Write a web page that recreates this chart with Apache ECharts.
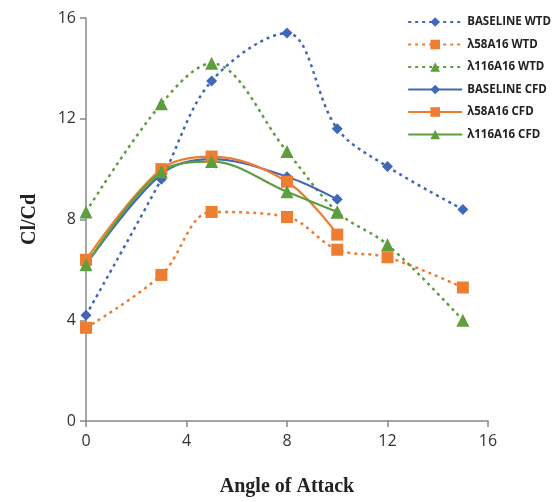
<!DOCTYPE html>
<html>
<head>
<meta charset="utf-8">
<script src="https://cdn.jsdelivr.net/npm/echarts@6/dist/echarts.min.js"></script>
<style>
  html, body { margin: 0; padding: 0; background: #fff; }
  #container { width: 560px; height: 502px; }
</style>
</head>
<body>
<div id="container"></div>
<script>
var dom = document.getElementById("container");
var myChart = echarts.init(dom);

// angle of attack for each series
var aoaWtd = [0, 3, 5, 8, 10, 12, 15];
var aoaCfd = [0, 3, 5, 8, 10];

// Cl/Cd values
var baselineWtd = [4.2, 9.6, 13.5, 15.4, 11.6, 10.1, 8.4];
var l58Wtd = [3.7, 5.8, 8.3, 8.1, 6.8, 6.5, 5.3];
var l116Wtd = [8.3, 12.6, 14.2, 10.7, 8.3, 7.0, 4.0];
var baselineCfd = [6.2, 9.8, 10.4, 9.7, 8.8];
var l58Cfd = [6.4, 10.0, 10.5, 9.5, 7.4];
var l116Cfd = [6.2, 9.9, 10.3, 9.1, 8.3];

var xTicks = [0, 4, 8, 12, 16];
var yTicks = [0, 4, 8, 12, 16];

var BLUE = '#4168B8', ORANGE = '#ED7D31', GREEN = '#5E9E3E';

function pairs(xs, ys) {
    return xs.map(function (x, i) { return [x, ys[i]]; });
}

function mkSeries(name, xs, ys, color, symbol, size, dotted) {
    return {
        name: name,
        type: 'line',
        data: pairs(xs, ys),
        smooth: 0.35,
        symbol: symbol,
        symbolSize: size,
        showAllSymbol: true,
        itemStyle: { color: color },
        lineStyle: {
            color: color,
            width: dotted ? 2.5 : 2.2,
            type: dotted ? [3, 4] : 'solid'
        },
        emphasis: { disabled: true },
        z: dotted ? 2 : 3
    };
}

var option = {
    animation: false,
    textStyle: { fontFamily: 'Open Sans' },
    grid: { left: 86, right: 72, top: 18, bottom: 79 },
    legend: {
        orient: 'vertical',
        right: 4,
        top: 11,
        itemWidth: 54,
        itemHeight: 12,
        itemGap: 10.5,
        textStyle: { fontSize: 11.5, fontWeight: 'bold', color: '#222', fontFamily: 'Open Sans' },
        data: ['BASELINE WTD', 'λ58A16 WTD', 'λ116A16 WTD', 'BASELINE CFD', 'λ58A16 CFD', 'λ116A16 CFD']
    },
    xAxis: {
        type: 'value',
        min: xTicks[0],
        max: xTicks[xTicks.length - 1],
        interval: 4,
        name: 'Angle of Attack',
        nameLocation: 'middle',
        nameGap: 56,
        nameTextStyle: { fontFamily: 'Liberation Serif', fontWeight: 'bold', fontSize: 20, color: '#222' },
        axisLine: { lineStyle: { color: '#888', width: 1.5 } },
        axisTick: { show: true, length: 6, lineStyle: { color: '#888', width: 1.5 } },
        axisLabel: { fontSize: 16, color: '#333', margin: 12 },
        splitLine: { show: false }
    },
    yAxis: {
        type: 'value',
        min: yTicks[0],
        max: yTicks[yTicks.length - 1],
        interval: 4,
        name: 'Cl/Cd',
        nameLocation: 'middle',
        nameGap: 46,
        nameRotate: 90,
        nameTextStyle: { fontFamily: 'Liberation Serif', fontWeight: 'bold', fontSize: 20, color: '#222' },
        axisLine: { show: true, lineStyle: { color: '#888', width: 1.5 } },
        axisTick: { show: true, length: 6, lineStyle: { color: '#888', width: 1.5 } },
        axisLabel: { fontSize: 16, color: '#333', margin: 10 },
        splitLine: { show: false }
    },
    series: [
        mkSeries('BASELINE WTD', aoaWtd, baselineWtd, BLUE, 'diamond', 11, true),
        mkSeries('λ58A16 WTD', aoaWtd, l58Wtd, ORANGE, 'rect', 12, true),
        mkSeries('λ116A16 WTD', aoaWtd, l116Wtd, GREEN, 'triangle', 13, true),
        mkSeries('BASELINE CFD', aoaCfd, baselineCfd, BLUE, 'diamond', 11, false),
        mkSeries('λ58A16 CFD', aoaCfd, l58Cfd, ORANGE, 'rect', 12, false),
        mkSeries('λ116A16 CFD', aoaCfd, l116Cfd, GREEN, 'triangle', 13, false)
    ]
};

myChart.setOption(option);

window.addEventListener('resize', function () {
    myChart.resize();
});
</script>
</body>
</html>
